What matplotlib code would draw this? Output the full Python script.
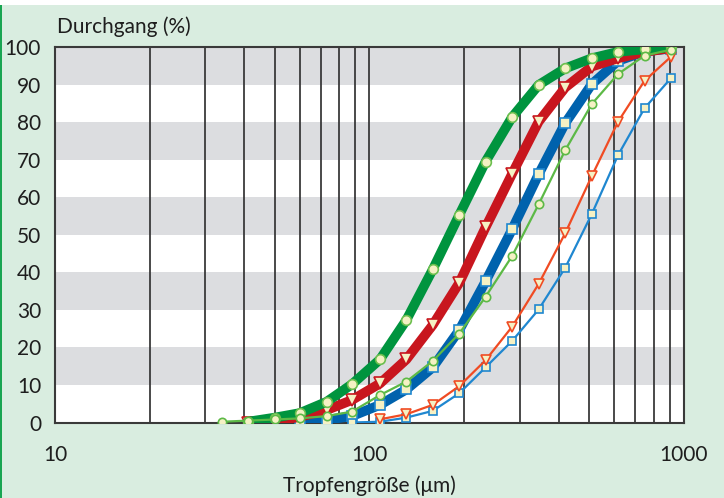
import numpy as np
import matplotlib
matplotlib.use('Agg')
import matplotlib.pyplot as plt
from matplotlib.patches import Rectangle

plt.rcParams['font.family'] = ['Lato', 'DejaVu Sans']

# droplet size classes (um)
sizes = [34, 41, 50, 60, 73, 88, 108, 131, 159, 193, 234, 284, 345, 419, 509, 617, 749, 909]

thick_green = [0.2, 1.3, 2.5, 5.5, 10.2, 16.8, 27.3, 40.8, 55.3, 69.5, 81.3, 89.9, 94.3, 97.0, 98.7, 99.4, 99.9]
thick_red = [0.0, 0.3, 1.5, 3.3, 6.0, 10.4, 16.8, 26.0, 37.2, 52.0, 66.2, 80.1, 89.2, 94.8, 97.0, 98.7, 99.7]
thick_blue = [0.0, 0.7, 1.7, 4.7, 8.8, 14.7, 24.6, 37.6, 51.4, 66.1, 79.7, 90.1, 96.3, 98.8, 99.6]
thin_green = [0.2, 0.5, 0.8, 1.1, 1.7, 2.9, 7.3, 10.9, 16.4, 23.7, 33.5, 44.3, 58.1, 72.5, 84.8, 92.8, 97.7, 99.3]
thin_orange = [0.85, 2.2, 4.7, 9.7, 16.6, 25.5, 36.9, 50.4, 65.6, 80.1, 91.0, 97.4]
thin_blue = [0.0, 0.2, 1.3, 3.1, 7.8, 14.7, 21.7, 30.1, 41.2, 55.5, 71.2, 83.7, 91.7]

y_ticks = [0, 10, 20, 30, 40, 50, 60, 70, 80, 90, 100]
x_ticks = [10, 100, 1000]
grid_x = [20, 30, 40, 50, 60, 70, 80, 90, 100, 200, 300, 400, 500, 600, 700, 800, 900]

BG = '#d9ede0'
BAND = '#dcdde0'
FILL = '#f5f1c4'
TXT = '#1e1e1e'

fig = plt.figure(figsize=(7.24, 4.98), dpi=100)
fig.patch.set_facecolor(BG)
# white strip on top and green rule on the left
fig.patches.append(Rectangle((0, 1 - 5 / 498), 1, 5 / 498, transform=fig.transFigure,
                             facecolor='white', edgecolor='none', zorder=-1))
fig.patches.append(Rectangle((0, 0), 2 / 724, 1 - 5 / 498, transform=fig.transFigure,
                             facecolor='#19a552', edgecolor='none', zorder=-1))

ax = fig.add_axes([55 / 724, 75.5 / 498, 629 / 724, 375.5 / 498])
ax.set_xscale('log')
ax.set_xlim(10, 1000)
ax.set_ylim(0, 100)
ax.set_facecolor('white')

for lo in range(10, 100, 20):
    ax.axhspan(lo, lo + 10, color=BAND, lw=0, zorder=0)
for gx in grid_x:
    ax.axvline(gx, color='#3a3a3a', lw=1.3, zorder=1)

for s in ax.spines.values():
    s.set_color('#3a3a3a')
    s.set_linewidth(1.5)

ax.plot(sizes[5:], thin_blue, color='#1f87d0', lw=1.6, marker='s', ms=6,
        mfc=FILL, mec='#1f87d0', mew=1.2, zorder=6)
ax.plot(sizes[6:], thin_orange, color='#f04b23', lw=1.6, marker='v', ms=7,
        mfc=FILL, mec='#f04b23', mew=1.2, zorder=6)
ax.plot(sizes[3:], thick_blue, color='#0062ad', lw=7, marker='s', ms=6.5,
        mfc=FILL, mec='#1f87d0', mew=1.2, solid_capstyle='round', zorder=3)
ax.plot(sizes[1:], thick_red, color='#c8161e', lw=7, marker='v', ms=8,
        mfc=FILL, mec='#c8161e', mew=1.2, solid_capstyle='round', zorder=4)
ax.plot(sizes[1:], thick_green, color='#00943e', lw=7, marker='o', ms=7,
        mfc=FILL, mec='#6cbf4e', mew=1.2, solid_capstyle='round', zorder=5)
ax.plot(sizes, thin_green, color='#5cb946', lw=1.6, marker='o', ms=6,
        mfc=FILL, mec='#5cb946', mew=1.2, zorder=7)

ax.set_yticks(y_ticks)
ax.set_yticklabels([str(v) for v in y_ticks])
ax.set_xticks(x_ticks)
ax.set_xticklabels([str(v) for v in x_ticks])
ax.xaxis.set_minor_locator(matplotlib.ticker.NullLocator())
ax.tick_params(axis='both', length=0, labelsize=15, colors=TXT)
ax.tick_params(axis='y', pad=10)
ax.tick_params(axis='x', pad=16)

ax.set_xlabel('Tropfengröße (μm)', fontsize=15, color=TXT, labelpad=8)
fig.text(57 / 724, 1 - 27 / 498, 'Durchgang (%)', fontsize=15, color=TXT,
         ha='left', va='center')

fig.savefig('out.png', dpi=100, facecolor=BG)
